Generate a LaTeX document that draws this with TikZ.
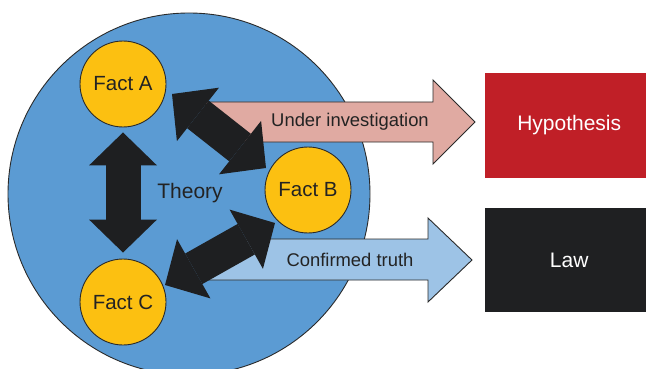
\documentclass[tikz,border=0pt]{standalone}
\usepackage{fontspec}
\setmainfont{Liberation Sans}
\usetikzlibrary{arrows.meta}
\definecolor{theoryblue}{HTML}{5B9BD3}
\definecolor{factyellow}{HTML}{FCC011}
\definecolor{pinkarrow}{HTML}{E0AAA2}
\definecolor{skyarrow}{HTML}{9DC3E6}
\definecolor{hypred}{HTML}{C01F27}
\definecolor{lawblack}{HTML}{1F2022}
\definecolor{linkblack}{HTML}{1E1F21}
\definecolor{edgegray}{HTML}{2A2A2A}
\definecolor{inkdark}{HTML}{232323}
\begin{document}
\begin{tikzpicture}[x=1pt,y=-1pt,
  outline/.style={draw=edgegray, line width=0.9pt},
  factnode/.style={circle, outline, fill=factyellow, minimum size=86pt, inner sep=0pt,
    font=\fontsize{20.5}{24}\selectfont, text=inkdark},
  flowarrow/.style={outline, line join=miter},
  flowlabel/.style={font=\fontsize{18.4}{22}\selectfont, text=inkdark},
  linkarrow/.style={draw=linkblack, line width=35pt, line cap=butt,
    {Triangle[length=33pt,width=68pt,line width=0pt]}-{Triangle[length=33pt,width=68pt,line width=0pt]}},
  resultbox/.style={minimum width=163pt, minimum height=104pt, inner sep=0pt,
    font=\fontsize{21}{25}\selectfont, text=white}]
\useasboundingbox (0,0) rectangle (646,369);
\clip (0,0) rectangle (646,369);

% the theory disc and its label
\node[circle, outline, fill=theoryblue, minimum size=362pt, inner sep=0pt] (theory) at (189,194) {};
\node[font=\fontsize{21}{25}\selectfont, text=inkdark] (theorylbl) at (190,193) {Theory};

% the three facts
\node[factnode] (A) at (123,84) {Fact A};
\node[factnode] (B) at (308,190) {Fact B};
\node[factnode] (C) at (123,302) {Fact C};

% outcomes
\node[resultbox, fill=hypred, anchor=west] (hyp) at (485,125.5) {\hspace*{5pt}Hypothesis};
\node[resultbox, fill=lawblack, anchor=west] (law) at (485,260) {\hspace*{5pt}Law};

% wide arrows leading to the outcomes
\draw[flowarrow, fill=pinkarrow] (205,102) -- (433,102) -- (433,80) -- (475,122)
  -- (433,164) -- (433,142) -- (215,142) -- cycle;
\node[flowlabel] (invest) at (350,122) {Under investigation};
\draw[flowarrow, fill=skyarrow] (215,239) -- (428,239) -- (428,218) -- (472,260)
  -- (428,302) -- (428,280) -- (205,280) -- cycle;
\node[flowlabel] (confirm) at (350,260) {Confirmed truth};

% links between the facts
\coordinate (ab1) at (172,94);
\coordinate (ab2) at (266,168);
\coordinate (bc1) at (275,223);
\coordinate (bc2) at (165,285);
\draw[linkarrow, shorten <=5pt, shorten >=6pt] (A) -- (C);
\draw[linkarrow] (ab1) -- (ab2);
\draw[linkarrow] (bc1) -- (bc2);
\end{tikzpicture}
\end{document}
